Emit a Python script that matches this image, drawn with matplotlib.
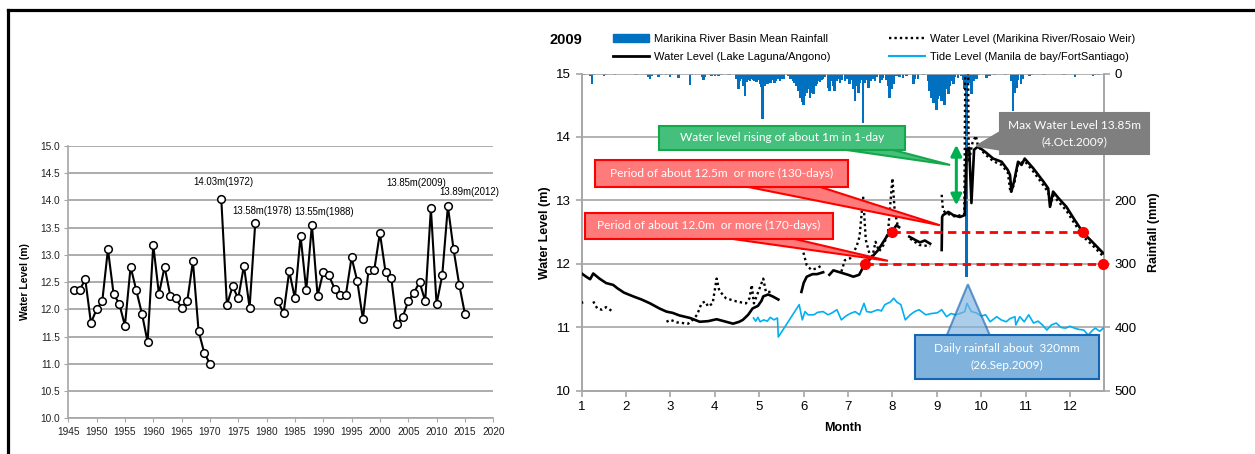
import matplotlib
matplotlib.use('Agg')
import matplotlib.pyplot as plt
from matplotlib.patches import Rectangle, Polygon, Patch
from matplotlib.lines import Line2D
import numpy as np

nan = np.nan

# ---------------------------------------------------------------------------
# Left chart: annual maximum water level of Laguna Lake
# ---------------------------------------------------------------------------
years = np.arange(1946, 2016)
annual_max = [12.35, 12.35, 12.55, 11.75, 12.00, 12.15, 13.10, 12.28, 12.10, 11.70,
              12.78, 12.35, 11.92, 11.40, 13.18, 12.28, 12.78, 12.25, 12.20, 12.02,
              12.15, 12.88, 11.60, 11.20, 11.00, nan,
              14.03, 12.08, 12.42, 12.20, 12.80, 12.03, 13.58, nan, nan, nan,
              12.15, 11.93, 12.70, 12.20, 13.35, 12.35, 13.55, 12.25, 12.68, 12.62,
              12.38, 12.27, 12.27, 12.95, 12.52, 11.82, 12.72, 12.72, 13.40, 12.68,
              12.58, 11.73, 11.85, 12.15, 12.30, 12.50, 12.15, 13.85, 12.10, 12.62,
              13.89, 13.10, 12.45, 11.92]
peak_labels = ['14.03m(1972)', '13.58m(1978)', '13.55m(1988)', '13.85m(2009)', '13.89m(2012)']

# ---------------------------------------------------------------------------
# Right chart: 2009 daily series (x = month)
# ---------------------------------------------------------------------------
rain_month = [1.03, 1.07, 1.20, 1.23, 1.27, 1.50, 1.53, 1.75, 2.20, 2.23, 2.47, 2.51, 2.54, 2.57,
              2.73, 2.77, 2.90, 2.99, 3.03, 3.18, 3.44, 3.47, 3.71, 3.74, 3.77, 3.89, 3.92, 3.96,
              4.00, 4.04, 4.08, 4.11, 4.15, 4.30, 4.34, 4.49, 4.53, 4.57, 4.60, 4.64, 4.68, 4.71,
              4.75, 4.79, 4.83, 4.87, 4.90, 4.94, 4.98, 5.02, 5.05, 5.08, 5.12, 5.15, 5.19, 5.22,
              5.26, 5.30, 5.34, 5.38, 5.42, 5.47, 5.50, 5.54, 5.66, 5.70, 5.73, 5.77, 5.80, 5.84,
              5.88, 5.92, 5.96, 5.99, 6.03, 6.07, 6.11, 6.14, 6.18, 6.22, 6.26, 6.29, 6.33, 6.37,
              6.40, 6.44, 6.48, 6.55, 6.59, 6.63, 6.67, 6.70, 6.74, 6.78, 6.82, 6.86, 6.93, 6.97,
              7.04, 7.08, 7.12, 7.16, 7.20, 7.23, 7.27, 7.31, 7.34, 7.38, 7.42, 7.46, 7.50, 7.57,
              7.61, 7.65, 7.72, 7.76, 7.79, 7.87, 7.90, 7.94, 7.98, 8.02, 8.09, 8.16, 8.24, 8.32,
              8.47, 8.51, 8.58, 8.70, 8.80, 8.84, 8.88, 8.92, 8.96, 8.99, 9.03, 9.07, 9.11, 9.15,
              9.18, 9.22, 9.26, 9.30, 9.34, 9.37, 9.41, 9.48, 9.55, 9.59, 9.63, 9.67, 9.71, 9.78,
              9.82, 9.89, 9.95, 10.12, 10.19, 10.30, 10.55, 10.68, 10.72, 10.76, 10.79, 10.83,
              10.90, 10.94, 11.09, 11.13, 11.39, 11.43, 11.85, 11.89, 12.11, 12.52, 12.56, 12.64]
rain_mm = [3, 2, 4, 17, 3, 4, 3, 2, 3, 2, 3, 5, 8, 4,
           6, 3, 2, 6, 3, 7, 18, 3, 6, 11, 5, 3, 4, 3,
           4, 3, 4, 3, 2, 3, 2, 9, 25, 12, 8, 20, 36, 14,
           10, 12, 8, 10, 12, 14, 10, 16, 22, 72, 20, 15, 17, 12,
           15, 10, 15, 12, 8, 12, 8, 9, 4, 8, 9, 12, 15, 20,
           28, 38, 45, 49, 35, 30, 25, 38, 30, 33, 20, 17, 12, 14,
           10, 9, 6, 23, 28, 12, 20, 28, 12, 8, 15, 10, 12, 8,
           17, 10, 25, 44, 20, 30, 15, 10, 78, 15, 10, 23, 12, 8,
           12, 6, 15, 10, 7, 10, 20, 38, 25, 17, 4, 5, 7, 4,
           17, 8, 9, 3, 12, 28, 38, 46, 30, 57, 40, 35, 44, 30,
           49, 25, 33, 20, 12, 17, 6, 7, 4, 10, 25, 320, 15, 33,
           12, 9, 3, 7, 4, 3, 3, 12, 59, 30, 23, 10,
           17, 8, 4, 3, 3, 2, 3, 2, 6, 4, 3, 3]

laguna_month = [1.00, 1.10, 1.19, 1.26, 1.40, 1.55, 1.71, 1.80, 1.95, 2.16, 2.35, 2.54, 2.75,
                2.91, 3.05, 3.20, 3.44, 3.55, 3.66, 3.85, 4.04, 4.20, 4.41, 4.55, 4.63, 4.75,
                4.85, 4.97, 5.05, 5.09, 5.20, 5.30, 5.43, nan,
                5.95, 6.00, 6.07, 6.20, 6.30, 6.44, nan,
                6.58, 6.67, 6.86, 7.00, 7.12, 7.25, 7.38, 7.50, 7.68, 7.87, 7.98, 8.09, 8.15, nan,
                8.38, 8.51, 8.62, 8.73, 8.85, nan,
                9.11, 9.12, 9.14, 9.26, 9.37, 9.52, 9.63, 9.67, 9.73, 9.78, 9.84, 9.93, 10.10,
                10.27, 10.46, 10.60, 10.65, 10.68, 10.74, 10.83, 10.91, 10.98, 11.17, 11.40,
                11.51, 11.55, 11.62, 11.75, 11.92, 12.10, 12.30, 12.50, 12.75]
laguna_level = [11.85, 11.80, 11.76, 11.85, 11.77, 11.70, 11.67, 11.62, 11.55, 11.49, 11.44, 11.38, 11.30,
                11.25, 11.23, 11.19, 11.15, 11.12, 11.09, 11.10, 11.13, 11.10, 11.06, 11.09, 11.12, 11.20,
                11.30, 11.34, 11.42, 11.49, 11.52, 11.49, 11.44, nan,
                11.56, 11.70, 11.80, 11.84, 11.84, 11.87, nan,
                11.83, 11.90, 11.86, 11.83, 11.80, 11.83, 12.00, 12.08, 12.22, 12.43, 12.50, 12.61, 12.58, nan,
                12.43, 12.38, 12.34, 12.37, 12.32, nan,
                12.22, 12.74, 12.77, 12.82, 12.77, 12.74, 12.77, 13.80, 13.83, 12.96, 13.80, 13.85, 13.76,
                13.66, 13.61, 13.48, 13.40, 13.14, 13.30, 13.61, 13.56, 13.66, 13.51, 13.30,
                13.19, 12.90, 13.14, 13.03, 12.90, 12.70, 12.49, 12.35, 12.17]

rosario_month = [1.00, 1.03, nan, 1.26, 1.35, 1.45, 1.55, 1.68, nan,
                 2.91, 3.00, 3.15, 3.40, 3.50, 3.60, 3.70, 3.78, 3.85, 3.95, 4.04, 4.10, 4.25,
                 4.49, 4.70, 4.78, 4.83, 4.88, 5.09, 5.15, 5.28, nan,
                 5.92, 5.98, 6.07, 6.17, 6.30, 6.41, nan,
                 6.85, 6.93, 7.05, 7.19, 7.26, 7.34, 7.40, 7.48, 7.55, 7.62, 7.70, 7.80, 7.90,
                 8.00, 8.05, 8.12, nan, 8.40, 8.60, 8.85, nan,
                 9.11, 9.14, 9.20, 9.40, 9.62, 9.645, 9.70, 9.72, 9.80, 9.88, 9.93, 10.10, 10.27,
                 10.46, 10.60, 10.66, 10.74, 10.83, 10.98, 11.17, 11.40, 11.51, 11.56, 11.62,
                 11.92, 12.10, 12.30, 12.50, 12.75]
rosario_level = [11.41, 11.35, nan, 11.41, 11.30, 11.28, 11.32, 11.26, nan,
                 11.09, 11.12, 11.08, 11.06, 11.12, 11.20, 11.38, 11.41, 11.33, 11.38, 11.77, 11.58, 11.46,
                 11.41, 11.38, 11.46, 11.67, 11.38, 11.77, 11.56, 11.56, nan,
                 12.43, 12.22, 11.98, 11.91, 11.93, 11.98, nan,
                 11.88, 12.06, 12.09, 12.27, 12.43, 13.06, 12.38, 12.17, 12.12, 12.35, 12.20, 12.30, 12.49,
                 13.35, 12.85, 12.60, nan, 12.40, 12.30, 12.28, nan,
                 13.09, 12.85, 12.80, 12.75, 12.78, 15.50, 15.50, 13.60, 13.90, 14.02, 13.85, 13.72, 13.62,
                 13.56, 13.44, 13.12, 13.25, 13.57, 13.62, 13.46, 13.24, 13.13, 12.93, 13.08,
                 12.84, 12.64, 12.43, 12.30, 12.12]

tide_month = [4.87, 4.92, 4.97, 5.02, 5.10, 5.18, 5.25, 5.33, 5.41, 5.43, 5.90, 5.97, 6.03, 6.10,
              6.23, 6.32, 6.44, 6.55, 6.64, 6.75, 6.85, 6.95, 7.05, 7.16, 7.26, 7.36, 7.42, 7.52,
              7.67, 7.75, 7.83, 7.95, 8.03, 8.10, 8.19, 8.29, 8.40, 8.50, 8.60, 8.75, 8.88, 9.01,
              9.11, 9.22, 9.32, 9.42, 9.52, 9.63, 9.68, 9.78, 9.89, 10.00, 10.10, 10.20, 10.35,
              10.45, 10.56, 10.65, 10.76, 10.78, 10.87, 10.97, 11.07, 11.18, 11.28, 11.38, 11.48,
              11.58, 11.69, 11.80, 11.90, 12.00, 12.10, 12.20, 12.31, 12.41, 12.50, 12.57, 12.67, 12.77]
tide_level = [11.15, 11.10, 11.16, 11.09, 11.12, 11.10, 11.16, 11.12, 11.15, 10.85, 11.36, 11.12, 11.25, 11.20,
              11.20, 11.24, 11.25, 11.20, 11.23, 11.28, 11.12, 11.18, 11.22, 11.25, 11.20, 11.38, 11.25, 11.24,
              11.28, 11.26, 11.36, 11.40, 11.46, 11.40, 11.36, 11.12, 11.20, 11.25, 11.28, 11.20, 11.22, 11.23,
              11.28, 11.17, 11.22, 11.20, 11.22, 11.25, 11.38, 11.25, 11.23, 11.18, 11.20, 11.09, 11.17,
              11.12, 11.09, 11.14, 11.17, 11.04, 11.17, 11.09, 11.20, 11.07, 11.10, 11.04, 10.96,
              11.04, 11.07, 11.00, 10.99, 11.02, 10.99, 10.97, 10.96, 10.88, 10.95, 10.99, 10.94, 11.00]

period_125 = [7.98, 12.30]
period_120 = [7.38, 12.75]

rain_ticks = [0, 100, 200, 300, 400, 500]
rain_ticklabels = ['0', '', '200', '300', '400', '500']   # 100 sits under the grey callout

legend_labels = ['Marikina River Basin Mean Rainfall', 'Water Level (Lake Laguna/Angono)',
                 'Water Level (Marikina River/Rosaio Weir)', 'Tide Level (Manila de bay/FortSantiago)']

# ---------------------------------------------------------------------------
plt.rcParams['font.family'] = ['Liberation Sans', 'DejaVu Sans']
grid_c = '#a6a6a6'
rain_c = '#0070c0'
tide_c = '#00b0f0'
box_font = ['Lato', 'DejaVu Sans']
narrow = ['Liberation Sans Narrow', 'Liberation Sans']

fig = plt.figure(figsize=(12.55, 4.54), dpi=100)

# outer frame (top and left edges only)
fig.add_artist(Line2D([8 / 1255, 1], [1 - 10 / 454, 1 - 10 / 454], color='black', lw=2.3,
                      transform=fig.transFigure))
fig.add_artist(Line2D([8 / 1255, 8 / 1255], [0, 1 - 10 / 454], color='black', lw=2.3,
                      transform=fig.transFigure))

# ---------------- left chart ----------------
axL = fig.add_axes([0.0544, 0.0786, 0.3386, 0.6004])
axL.plot(years, annual_max, '-o', color='black', lw=1.5, ms=5.5, mfc='white', mec='black',
         mew=1.1, zorder=3)
axL.set_xlim(1945, 2020)
axL.set_ylim(10, 15)
axL.set_xticks(np.arange(1945, 2021, 5))
axL.set_yticks(np.arange(10, 15.01, 0.5))
axL.yaxis.set_major_formatter(matplotlib.ticker.FormatStrFormatter('%.1f'))
axL.grid(axis='y', color=grid_c, lw=1.3, zorder=0)
for s in ['top', 'right']:
    axL.spines[s].set_visible(False)
for s in ['left', 'bottom']:
    axL.spines[s].set_color(grid_c)
    axL.spines[s].set_linewidth(1.2)
axL.tick_params(axis='both', labelsize=7.3, color=grid_c, length=3, pad=3, labelcolor='#222222')
for lab in axL.get_xticklabels() + axL.get_yticklabels():
    lab.set_family(narrow)
axL.set_ylabel('Water Level (m)', fontsize=7.5, fontweight='bold', labelpad=7)

peak_pos = [(1972.3, 14.33), (1979.2, 13.80), (1990.1, 13.78), (2006.5, 14.31), (2015.7, 14.15)]
for lab, (px, py) in zip(peak_labels, peak_pos):
    axL.text(px, py, lab, fontsize=6.9, ha='center', va='center', family=narrow)

# ---------------- right chart ----------------
ax = fig.add_axes([0.4635, 0.1388, 0.4163, 0.6993])
ax2 = ax.twinx()
ax2.bar(rain_month, rain_mm, width=0.06, color=rain_c, align='center', zorder=2)
ax2.set_ylim(500, 0)
ax2.set_yticks(rain_ticks)
ax2.set_yticklabels(rain_ticklabels)
ax.set_zorder(ax2.get_zorder() + 1)
ax.patch.set_visible(False)

ax.plot(laguna_month, laguna_level, color='black', lw=1.9, zorder=4)
ax.plot(rosario_month, rosario_level, color='black', lw=1.7, linestyle=(0, (1, 1.3)), zorder=4)
ax.plot(tide_month, tide_level, color=tide_c, lw=1.2, zorder=4)

ax.plot(period_125, [12.5, 12.5], color='red', lw=2, linestyle=(0, (3, 2)), marker='o',
        ms=7, zorder=5, clip_on=False)
ax.plot(period_120, [12.0, 12.0], color='red', lw=2, linestyle=(0, (3, 2)), marker='o',
        ms=7, zorder=5, clip_on=False)

ax.set_xlim(1, 12.77)
ax.set_ylim(10, 15)
ax.set_xticks(np.arange(1, 13))
ax.set_yticks(np.arange(10, 16))
ax.grid(axis='y', color=grid_c, lw=1.2, zorder=0)
for a in (ax, ax2):
    a.spines['top'].set_visible(False)
    for s in ['left', 'right', 'bottom']:
        a.spines[s].set_color(grid_c)
        a.spines[s].set_linewidth(1.2)
    a.tick_params(labelsize=9.5, color=grid_c, length=4, width=1.2)
ax.set_ylabel('Water Level (m)', fontsize=9, fontweight='bold', labelpad=4)
ax2.set_ylabel('Rainfall (mm)', fontsize=9, fontweight='bold', labelpad=8)
ax.set_xlabel('Month', fontsize=9, fontweight='bold', labelpad=6)

# ---- callouts ----
def callout(xy0, xy1, wedge, face, edge, text, alpha=1.0, tc='white', fs=8.6, wedge_alpha=None):
    wa = alpha if wedge_alpha is None else wedge_alpha
    ax.add_patch(Polygon(wedge, closed=True, facecolor=face, edgecolor=edge, lw=1.5,
                         alpha=wa, zorder=8, clip_on=False))
    ax.add_patch(Rectangle(xy0, xy1[0] - xy0[0], xy1[1] - xy0[1], facecolor=face,
                           edgecolor=edge, lw=1.5, alpha=alpha, zorder=9, clip_on=False))
    ax.text((xy0[0] + xy1[0]) / 2, (xy0[1] + xy1[1]) / 2, text, color=tc, fontsize=fs,
            ha='center', va='center', family=box_font, zorder=10, linespacing=1.6)

green_f, green_e = '#44c07c', '#14a84a'
callout((2.74, 13.80), (8.28, 14.17), [(6.82, 13.81), (7.94, 13.81), (9.30, 13.56)],
        green_f, green_e, 'Water level rising of about 1m in 1-day')
red_f, red_e = '#ff7b7b', '#ff0000'
callout((1.30, 13.22), (7.00, 13.63), [(4.63, 13.23), (6.30, 13.23), (9.07, 12.61)],
        red_f, red_e, 'Period of about 12.5m  or more (130-days)')
callout((1.08, 12.39), (6.66, 12.81), [(4.34, 12.40), (5.76, 12.40), (7.90, 12.05)],
        red_f, red_e, 'Period of about 12.0m  or more (170-days)')
callout((10.42, 13.73), (13.78, 14.38), [(10.43, 14.08), (10.43, 13.80), (9.90, 13.86)],
        '#7f7f7f', '#7f7f7f', 'Max Water Level 13.85m\n(4.Oct.2009)')
callout((8.51, 10.19), (12.66, 10.88), [(9.22, 10.87), (10.20, 10.87), (9.70, 11.68)],
        '#7fb3de', '#1565b5', 'Daily rainfall about  320mm\n(26.Sep.2009)', wedge_alpha=0.65)

ax.annotate('', xy=(9.44, 13.92), xytext=(9.44, 12.88),
            arrowprops=dict(arrowstyle='<|-|>', color='#00b050', lw=2.2, mutation_scale=16),
            zorder=9)

# ---- legend ----
handles = [Patch(facecolor=rain_c, edgecolor=rain_c),
           Line2D([], [], color='black', lw=2),
           Line2D([], [], color='black', lw=1.7, linestyle=(0, (1, 1.3))),
           Line2D([], [], color=tide_c, lw=1.5)]
fig.legend(handles, legend_labels, ncol=2, loc='upper left',
           bbox_to_anchor=(613 / 1255, 1 - 34 / 454), frameon=False, fontsize=8,
           handlelength=3.2, handletextpad=0.45, columnspacing=5.3, labelspacing=0.75,
           borderpad=0, borderaxespad=0)
fig.text(566 / 1255, 1 - 40 / 454, '2009', fontsize=10.5, fontweight='bold', ha='center',
         va='center')

fig.savefig('out.png', dpi=100)
